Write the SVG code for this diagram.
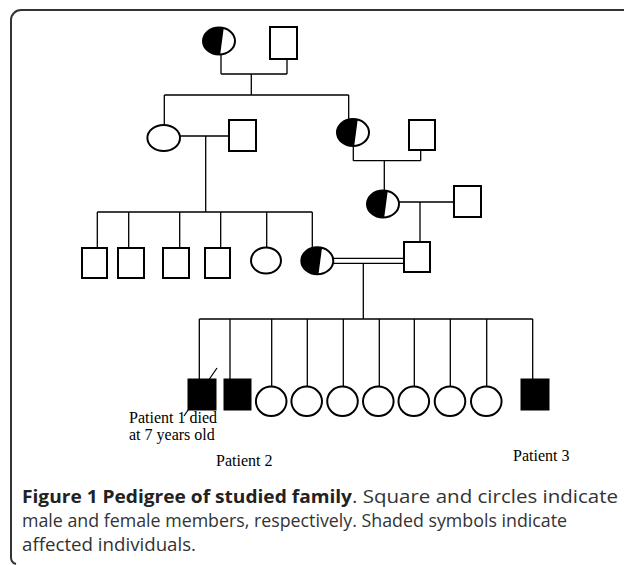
<svg xmlns="http://www.w3.org/2000/svg" width="624" height="565" viewBox="0 0 624 565">
<style>
.ln{stroke:#000;stroke-width:1.3;fill:none}
.m{fill:#fff;stroke:#000;stroke-width:2}
.mf{fill:#000;stroke:#000;stroke-width:1}
.f{fill:#fff;stroke:#000;stroke-width:2}
.lbl{font-family:"Liberation Serif","Times New Roman",serif;font-size:16px;fill:#000}
.cap{font-family:"Open Sans","Noto Sans",sans-serif;font-size:18px;fill:#333}
.capb{font-weight:bold;fill:#222}
</style>
<defs>
<clipPath id="hc"><ellipse cx="0" cy="0" rx="16" ry="13.5"/></clipPath>
<g id="half">
<ellipse cx="0" cy="0" rx="16" ry="13.5" fill="#fff"/>
<polygon points="-18,-15 5,-15 1,15 -18,15" fill="#000" clip-path="url(#hc)"/>
<ellipse cx="0" cy="0" rx="16" ry="13.5" fill="none" stroke="#000" stroke-width="2"/>
</g>
</defs>
<rect width="624" height="565" fill="#fff"/>
<path d="M624,10 H21 A10,10 0 0 0 11,20 V557 A7,7 0 0 0 16,564" fill="none" stroke="#333" stroke-width="2"/>

<g id="connectors">
<path class="ln" d="M221,55 V74 M287,59 V74 M221,74 H287 M251.3,74 V95 M164.3,95 H348.7 M164.3,95 V125 M348.7,95 V119"/>
<path class="ln" d="M180,136 H229 M205.7,136 V212"/>
<path class="ln" d="M353.3,146 V160.7 M420.7,150 V160.7 M353.3,160.7 H420.7 M384.3,160.7 V190.7"/>
<path class="ln" d="M97.3,212 H312.3 M97.3,212 V248 M128.7,212 V248 M179.7,212 V248 M220.7,212 V248 M266.7,212 V247.5 M312.3,212 V247.5"/>
<path class="ln" d="M399,202 H454 M420,202 V242"/>
<path class="ln" d="M333.3,258.3 H404.3 M333.3,263.3 H404.3 M363.3,263.3 V319"/>
<path class="ln" d="M199.3,319 H532.7 M199.3,319 V379 M230,319 V379 M271.7,319 V386.7 M307.3,319 V386.7 M343.3,319 V386.7 M379.3,319 V386.7 M414.3,319 V386.7 M450.3,319 V386.7 M486.7,319 V386.7 M532.7,319 V379"/>
<path class="ln" d="M217,368 L184,416" stroke-width="1"/>
</g>

<g id="gen1-female"><use href="#half" transform="translate(219,41)"/></g>
<g id="gen1-male"><rect class="m" x="270" y="27" width="27" height="32"/></g>

<g id="gen2-female-left"><ellipse class="f" cx="163.7" cy="138" rx="16.3" ry="13"/></g>
<g id="gen2-male-left"><rect class="m" x="229" y="120" width="27" height="31"/></g>
<g id="gen2-female-right"><use href="#half" transform="translate(353,132.5)"/></g>
<g id="gen2-male-right"><rect class="m" x="409" y="120" width="26" height="30"/></g>

<g id="gen3-m1"><rect class="m" x="82" y="248" width="25" height="30"/></g>
<g id="gen3-m2"><rect class="m" x="118" y="248" width="26" height="30"/></g>
<g id="gen3-m3"><rect class="m" x="163" y="248" width="26" height="30"/></g>
<g id="gen3-m4"><rect class="m" x="205" y="248" width="25" height="30"/></g>
<g id="gen3-f1"><ellipse class="f" cx="266" cy="260.5" rx="15" ry="13"/></g>
<g id="gen3-f2"><use href="#half" transform="translate(317.3,260.7)"/></g>
<g id="gen3-f-right"><use href="#half" transform="translate(383,204)"/></g>
<g id="gen3-m-right"><rect class="m" x="454" y="186" width="27" height="31"/></g>
<g id="gen3-m-spouse"><rect class="m" x="404" y="242" width="26" height="30"/></g>

<g id="gen4-patient1"><rect class="mf" x="188" y="379" width="28" height="31"/></g>
<g id="gen4-patient2"><rect class="mf" x="224" y="379" width="27" height="31"/></g>
<g id="gen4-f1"><ellipse class="f" cx="271.2" cy="401.3" rx="15.3" ry="14.7"/></g>
<g id="gen4-f2"><ellipse class="f" cx="306.7" cy="401.3" rx="15.3" ry="14.7"/></g>
<g id="gen4-f3"><ellipse class="f" cx="342.5" cy="401.3" rx="15.3" ry="14.7"/></g>
<g id="gen4-f4"><ellipse class="f" cx="378.3" cy="401.3" rx="15.3" ry="14.7"/></g>
<g id="gen4-f5"><ellipse class="f" cx="413.8" cy="401.3" rx="15.3" ry="14.7"/></g>
<g id="gen4-f6"><ellipse class="f" cx="450" cy="401.3" rx="15.3" ry="14.7"/></g>
<g id="gen4-f7"><ellipse class="f" cx="486.3" cy="401.3" rx="15.3" ry="14.7"/></g>
<g id="gen4-patient3"><rect class="mf" x="521" y="379" width="28" height="31"/></g>

<g id="labels">
<text class="lbl" x="129" y="423">Patient 1 died</text>
<text class="lbl" x="129" y="440">at 7 years old</text>
<text class="lbl" x="216" y="466">Patient 2</text>
<text class="lbl" x="513" y="461">Patient 3</text>
</g>

<g id="caption">
<text class="cap capb" x="22" y="503" textLength="330" lengthAdjust="spacingAndGlyphs">Figure 1 Pedigree of studied family</text>
<text class="cap" x="352" y="503" textLength="266" lengthAdjust="spacingAndGlyphs">. Square and circles indicate</text>
<text class="cap" x="22" y="527" textLength="545" lengthAdjust="spacingAndGlyphs">male and female members, respectively. Shaded symbols indicate</text>
<text class="cap" x="22" y="551" textLength="174" lengthAdjust="spacingAndGlyphs">affected individuals.</text>
</g>
</svg>
